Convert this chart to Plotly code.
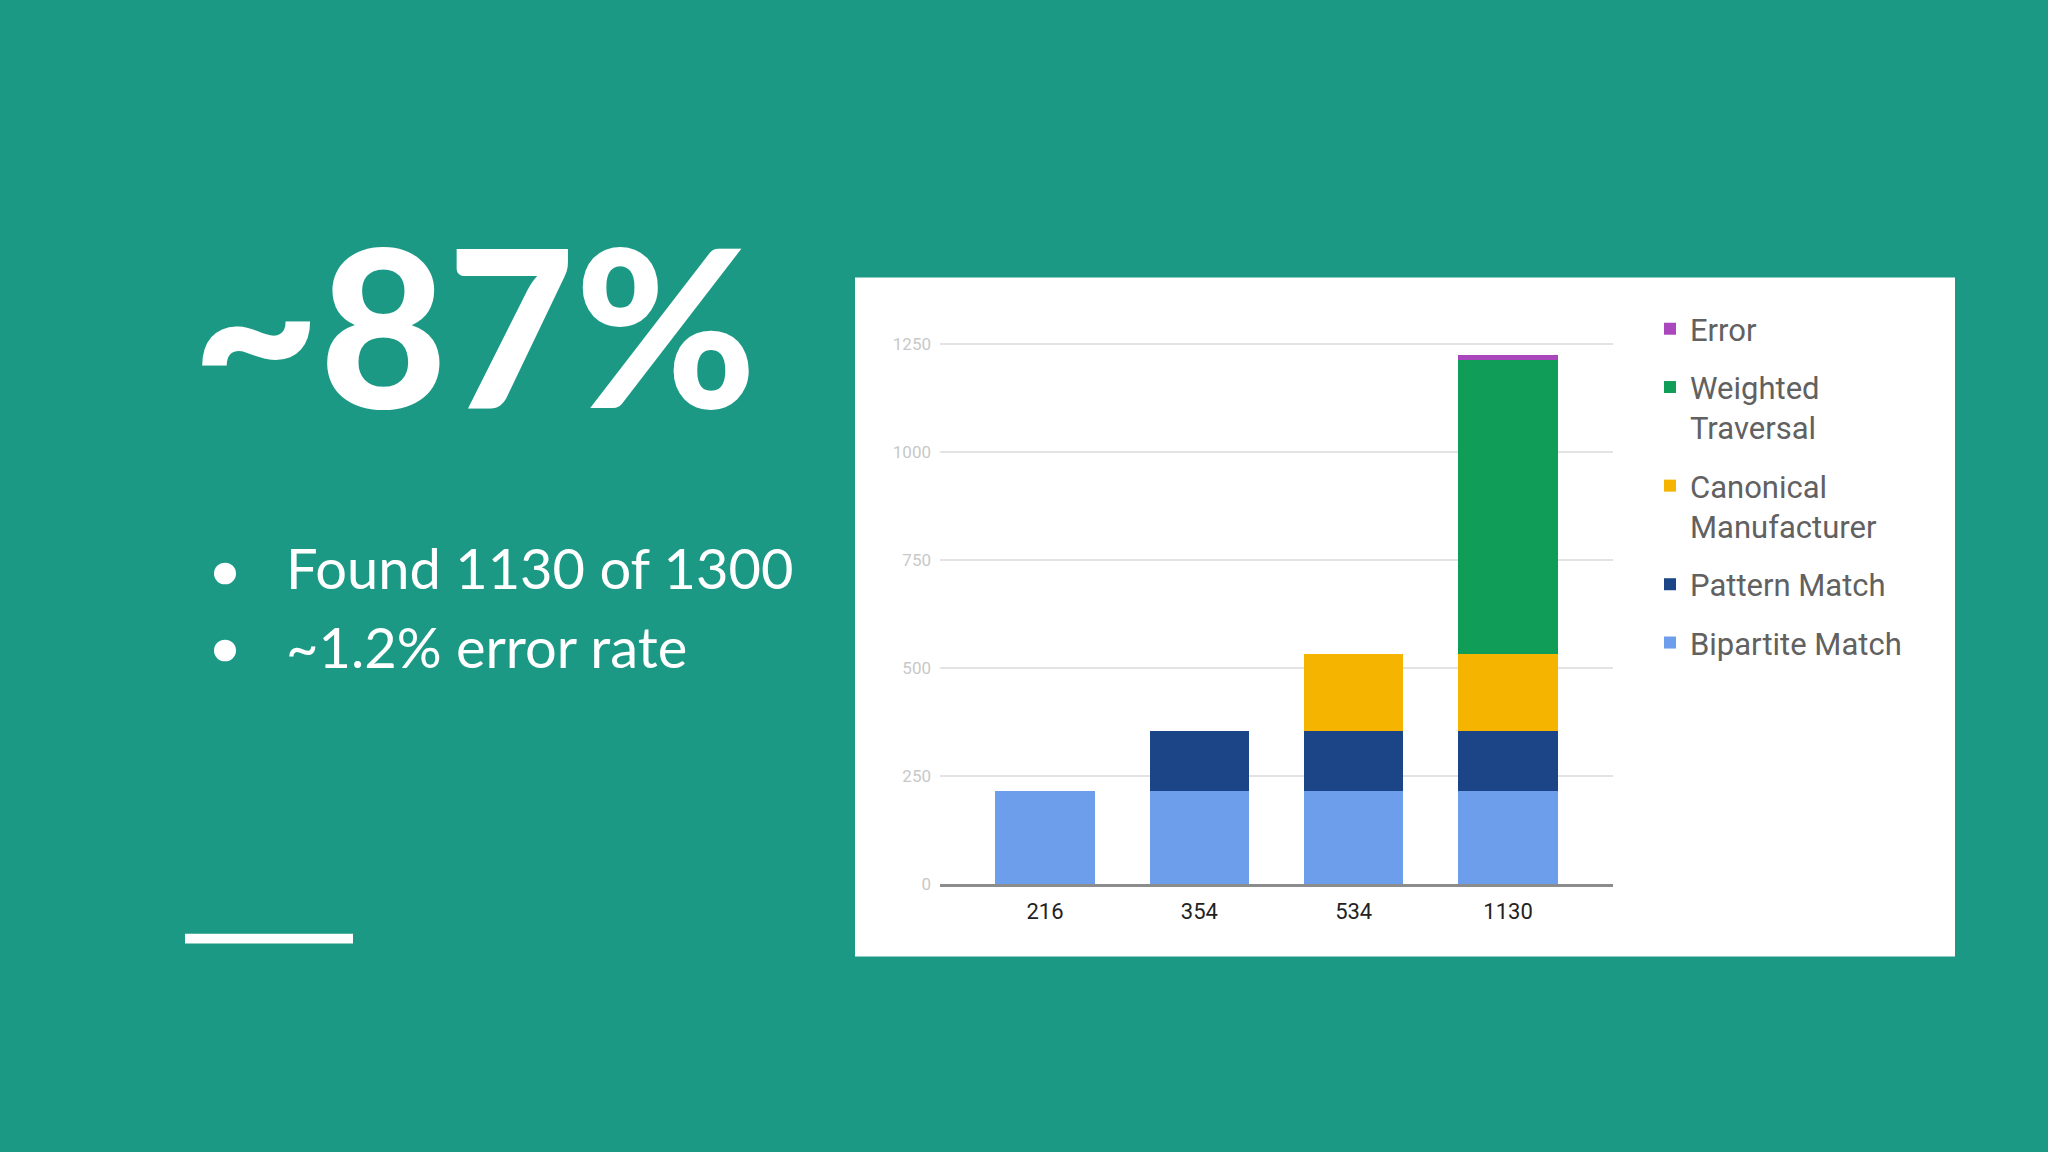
import plotly.graph_objects as go

W, H = 2048, 1152

categories = ["216", "354", "534", "1130"]
bipartite = [216, 216, 216, 216]
pattern = [0, 138, 138, 138]
canonical = [0, 0, 180, 180]
weighted = [0, 0, 0, 678]
error = [0, 0, 0, 13]

series_names = ["Bipartite Match", "Pattern Match", "Canonical<br>Manufacturer", "Weighted<br>Traversal", "Error"]
series_values = [bipartite, pattern, canonical, weighted, error]
series_colors = ["#6d9eeb", "#1c4587", "#f4b400", "#0f9d58", "#ab47bc"]
y_ticks = [0, 250, 500, 750, 1000, 1250]

BG = "#1b9985"

def px(x):
    return x / W

def py(y):
    return (H - y) / H

fig = go.Figure()
n = len(series_names)
for i, (name, vals, col) in enumerate(zip(series_names, series_values, series_colors)):
    fig.add_trace(go.Bar(
        x=categories, y=vals, name=name, legendgroup="g%d" % i,
        legendrank=n - i,
        marker=dict(color=col, line=dict(width=0)),
        hoverinfo="skip",
    ))

# plot geometry (pixels)
x_left, x_right = 940, 1613
y_zero = 891
y_1250 = 343.5
ppu = (y_zero - y_1250) / 1250.0  # px per unit
y_max = 1262
y_top = y_zero - y_max * ppu

fig.update_layout(
    width=W, height=H,
    margin=dict(l=0, r=0, t=0, b=0),
    paper_bgcolor=BG,
    plot_bgcolor="rgba(0,0,0,0)",
    barmode="stack",
    bargap=0.357,
    font=dict(family="Roboto", color="#555555"),
    showlegend=True,
    legend=dict(
        x=px(1650), y=py(301), xanchor="left", yanchor="top",
        traceorder="grouped",
        tracegroupgap=15,
        valign="top",
        font=dict(family="Roboto", size=31, color="#616161"),
        bgcolor="rgba(0,0,0,0)",
        itemclick=False, itemdoubleclick=False,
    ),
    xaxis=dict(
        type="category",
        domain=[px(x_left), px(x_right)],
        range=[-0.68, 3.68],
        showgrid=False,
        showline=True, linecolor="#8c8c8c", linewidth=3,
        ticks="",
        tickfont=dict(family="Roboto", size=22, color="#222222"),
        ticklabelstandoff=5,
        fixedrange=True,
    ),
    yaxis=dict(
        domain=[py(y_zero), py(y_top)],
        range=[0, y_max],
        tickvals=y_ticks,
        ticktext=[str(v) for v in y_ticks],
        showgrid=True, gridcolor="#e3e3e3", gridwidth=1.5,
        zeroline=False,
        showline=False,
        ticks="",
        tickfont=dict(family="Roboto", size=17, color="#c8c8c8"),
        ticklabelstandoff=8,
        fixedrange=True,
    ),
    shapes=[
        dict(type="rect", xref="paper", yref="paper", layer="below",
             x0=px(855), x1=px(1955), y0=py(964), y1=py(276),
             fillcolor="white", line=dict(width=0)),
        dict(type="rect", xref="paper", yref="paper",
             x0=px(185), x1=px(353), y0=py(951), y1=py(941),
             fillcolor="white", line=dict(width=0)),
        dict(type="circle", xref="paper", yref="paper",
             x0=px(214), x1=px(236), y0=py(587), y1=py(565),
             fillcolor="white", line=dict(width=0)),
        dict(type="circle", xref="paper", yref="paper",
             x0=px(214), x1=px(236), y0=py(665), y1=py(643),
             fillcolor="white", line=dict(width=0)),
    ],
    annotations=[
        dict(text="~87%", xref="paper", yref="paper",
             x=px(190), y=py(322), xanchor="left", yanchor="middle",
             showarrow=False,
             font=dict(family="Lato", size=220, color="white", weight=900)),
        dict(text="Found 1130 of 1300", xref="paper", yref="paper",
             x=px(284), y=py(570), xanchor="left", yanchor="middle",
             showarrow=False,
             font=dict(family="Lato", size=56, color="white")),
        dict(text="~1.2% error rate", xref="paper", yref="paper",
             x=px(284), y=py(650), xanchor="left", yanchor="middle",
             showarrow=False,
             font=dict(family="Lato", size=56, color="white")),
    ],
)

fig.write_html(
    "out.html",
    config={"displayModeBar": False},
    post_script="document.body.style.margin='0';document.body.style.overflow='hidden';",
)
